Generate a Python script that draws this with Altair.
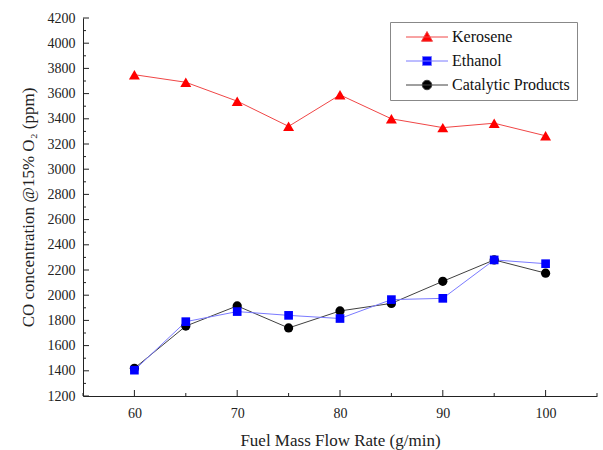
import altair as alt
import pandas as pd

flow = [60, 65, 70, 75, 80, 85, 90, 95, 100]
kerosene = [3750, 3690, 3540, 3340, 3590, 3400, 3330, 3365, 3265]
ethanol = [1405, 1790, 1870, 1840, 1815, 1965, 1975, 2280, 2250]
catalytic = [1420, 1755, 1915, 1740, 1875, 1935, 2110, 2280, 2175]
series = ["Kerosene", "Ethanol", "Catalytic Products"]
draw_order = ["Kerosene", "Catalytic Products", "Ethanol"]
x_major = [60, 70, 80, 90, 100]
x_minor = [55, 65, 75, 85, 95, 105]
y_major = list(range(1200, 4201, 200))
y_minor = list(range(1300, 4200, 200))

line_colors = ["#f04646", "#7a7aff", "#404040"]
marker_colors = ["#ff0000", "#0000ff", "#000000"]
marker_shapes = ["triangle-up", "square", "circle"]
marker_sizes = [120, 75, 85]
legend_paths = [
    "M-4.2,0H4.2M0,-1.1L1.1,0.85L-1.1,0.85Z",
    "M-4.2,0H4.2M-0.9,-0.9H0.9V0.9H-0.9Z",
    "M-4.2,0H4.2M-0.95,0A0.95,0.95,0,1,1,0.95,0A0.95,0.95,0,1,1,-0.95,0Z",
]

vals = {"Kerosene": kerosene, "Ethanol": ethanol, "Catalytic Products": catalytic}
rows = []
for name in series:
    for f, v in zip(flow, vals[name]):
        rows.append({"Flow": f, "CO": v, "Series": name})
df = pd.DataFrame(rows)

FONT = "Liberation Serif"

xsc = alt.Scale(domain=[55, 105], nice=False, zero=False)
ysc = alt.Scale(domain=[1200, 4200], nice=False, zero=False)
xaxis = alt.Axis(
    values=x_major, ticks=False, grid=False, title="Fuel Mass Flow Rate (g/min)",
    labelPadding=10, titlePadding=12, format="d",
    labelFont=FONT, labelFontSize=14, titleFont=FONT, titleFontSize=17,
)
yaxis = alt.Axis(
    values=y_major, ticks=False, grid=False, title="CO concentration @15% O₂ (ppm)",
    labelPadding=8, titlePadding=10, format="d",
    labelFont=FONT, labelFontSize=14, titleFont=FONT, titleFontSize=17,
)
xenc = alt.X("Flow:Q", scale=xsc, axis=xaxis)
yenc = alt.Y("CO:Q", scale=ysc, axis=yaxis)

base = alt.Chart(df)

line_layers = []
for name in draw_order:
    i = series.index(name)
    line_layers.append(
        base.transform_filter(alt.datum.Series == name).mark_line(
            strokeWidth=1, color=line_colors[i]
        ).encode(x=xenc, y=yenc, order=alt.Order("Flow:Q"))
    )

point_layers = []
for name in draw_order:
    i = series.index(name)
    point_layers.append(
        base.transform_filter(alt.datum.Series == name).mark_point(
            filled=True, opacity=1, strokeWidth=0,
            shape=marker_shapes[i], color=marker_colors[i], size=marker_sizes[i],
        ).encode(x=xenc, y=yenc)
    )

leg = alt.Legend(
    title=None, orient="none", legendX=307, legendY=4,
    labelFont=FONT, labelFontSize=16, labelColor="#111",
    symbolSize=100, symbolStrokeWidth=1, symbolOffset=22, symbolOpacity=1,
    rowPadding=8, padding=7, labelOffset=17,
    strokeColor="#888", fillColor="white",
)
legend_layer = base.transform_filter(alt.datum.CO < 0).mark_point(
    filled=True, strokeWidth=1, opacity=1
).encode(
    x=xenc, y=yenc,
    fill=alt.Fill("Series:N", scale=alt.Scale(domain=series, range=marker_colors), legend=leg),
    stroke=alt.Stroke("Series:N", scale=alt.Scale(domain=series, range=line_colors), legend=leg),
    shape=alt.Shape("Series:N", scale=alt.Scale(domain=series, range=legend_paths), legend=leg),
)

ymaj_df = pd.DataFrame({"v": y_major})
ymin_df = pd.DataFrame({"v": y_minor})
xmaj_df = pd.DataFrame({"v": x_major})
xmin_df = pd.DataFrame({"v": x_minor})

ytick_major = alt.Chart(ymaj_df).mark_rule(color="#222", strokeWidth=1).encode(
    y=alt.Y("v:Q", scale=ysc, axis=yaxis), x=alt.value(0), x2=alt.value(6))
ytick_minor = alt.Chart(ymin_df).mark_rule(color="#222", strokeWidth=1).encode(
    y=alt.Y("v:Q", scale=ysc, axis=yaxis), x=alt.value(0), x2=alt.value(3))
xtick_major = alt.Chart(xmaj_df).mark_rule(color="#222", strokeWidth=1).encode(
    x=alt.X("v:Q", scale=xsc, axis=xaxis), y=alt.value(378), y2=alt.value(372))
xtick_minor = alt.Chart(xmin_df).mark_rule(color="#222", strokeWidth=1).encode(
    x=alt.X("v:Q", scale=xsc, axis=xaxis), y=alt.value(378), y2=alt.value(375))

chart = alt.layer(
    *line_layers, *point_layers, legend_layer,
    ytick_major, ytick_minor, xtick_major, xtick_minor
).properties(
    width=514, height=378,
    autosize=alt.AutoSizeParams(type="none"),
    padding={"left": 83, "top": 18, "right": 6, "bottom": 54},
).configure(
    font=FONT
).configure_view(
    stroke=None
).configure_axis(
    labelFont=FONT, labelColor="#222", titleFontWeight="normal", titleColor="#222",
    domainColor="#222", domainWidth=1,
).configure_legend(
    labelFont=FONT
)

chart.save("out.html", embed_options={"renderer": "svg", "actions": False})
